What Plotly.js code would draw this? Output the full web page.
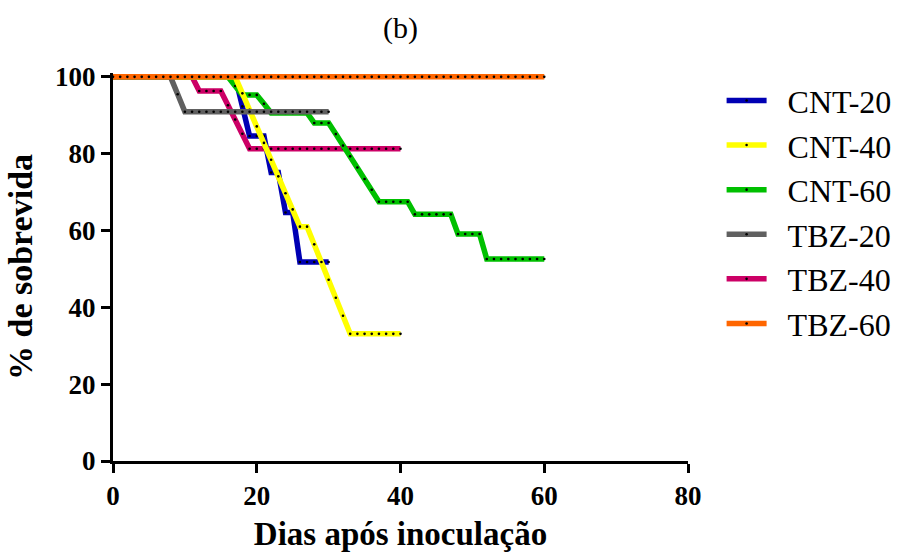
<!DOCTYPE html>
<html>
<head>
<meta charset="utf-8">
<script src="https://cdn.plot.ly/plotly-3.0.1.min.js"></script>
<style>html,body{margin:0;padding:0;background:#fff;}#chart{width:902px;height:554px;}</style>
</head>
<body>
<div id="chart"></div>
<script>
// Days after inoculation (0..60)
const days = [0,1,2,3,4,5,6,7,8,9,10,11,12,13,14,15,16,17,18,19,20,21,22,23,24,25,26,27,28,29,30,
  31,32,33,34,35,36,37,38,39,40,41,42,43,44,45,46,47,48,49,50,51,52,53,54,55,56,57,58,59,60];

// % survival per group, one value per day
const cnt20 = [100,100,100,100,100,100,100,100,100,100,100,100,100,100,100,100,100,100,
  92.3,84.6,84.6,84.6,75.1,75.1,64.7,64.7,51.8,51.8,51.8,51.8,51.8];
const cnt40 = [100,100,100,100,100,100,100,100,100,100,100,100,100,100,100,100,100,100,
  95.7,91.4,87.1,82.8,78.4,74.1,69.7,65.5,61.0,61.0,56.4,51.8,47.2,42.5,37.8,33.1,
  33.1,33.1,33.1,33.1,33.1,33.1,33.1];
const cnt60 = [100,100,100,100,100,100,100,100,100,100,100,100,100,100,100,100,100,
  97.6,95.3,95.3,95.3,93.0,90.6,90.6,90.6,90.6,90.6,90.6,88.0,88.0,88.0,85.1,82.1,79.3,
  76.4,73.4,70.6,67.5,67.5,67.5,67.5,67.5,64.2,64.2,64.2,64.2,64.2,64.2,59.1,59.1,59.1,
  59.1,52.6,52.6,52.6,52.6,52.6,52.6,52.6,52.6,52.6];
const tbz20 = [100,100,100,100,100,100,100,100,100,95.45,90.9,90.9,90.9,90.9,90.9,90.9,
  90.9,90.9,90.9,90.9,90.9,90.9,90.9,90.9,90.9,90.9,90.9,90.9,90.9,90.9,90.9];
const tbz40 = [100,100,100,100,100,100,100,100,100,100,100,100,96.3,96.3,96.3,96.3,92.6,
  88.9,85.2,81.3,81.3,81.3,81.3,81.3,81.3,81.3,81.3,81.3,81.3,81.3,81.3,81.3,81.3,81.3,
  81.3,81.3,81.3,81.3,81.3,81.3,81.3];
const tbz60 = [100,100,100,100,100,100,100,100,100,100,100,100,100,100,100,100,100,100,
  100,100,100,100,100,100,100,100,100,100,100,100,100,100,100,100,100,100,100,100,100,100,
  100,100,100,100,100,100,100,100,100,100,100,100,100,100,100,100,100,100,100,100,100];

const seriesNames = ['CNT-20','CNT-40','CNT-60','TBZ-20','TBZ-40','TBZ-60'];
const xTicks = [0,20,40,60,80];
const yTicks = [0,20,40,60,80,100];

const FONT = 'Liberation Serif, Times New Roman, serif';

// drawing order (bottom -> top) with legend ranks
const defs = [
  {name:seriesNames[4], y:tbz40, color:'#CC0066', rank:5},
  {name:seriesNames[0], y:cnt20, color:'#0000B4', rank:1},
  {name:seriesNames[2], y:cnt60, color:'#00C000', rank:3},
  {name:seriesNames[1], y:cnt40, color:'#FFFF00', rank:2},
  {name:seriesNames[3], y:tbz20, color:'#606060', rank:4},
  {name:seriesNames[5], y:tbz60, color:'#FF6600', rank:6}
];

const traces = defs.map(d => ({
  type:'scatter', mode:'lines+markers', name:'\u00A0\u00A0' + d.name,
  x: days.slice(0, d.y.length), y: d.y,
  line:{color:d.color, width:5.5},
  marker:{color:'#000', size:2.6, symbol:'circle'},
  legendrank:d.rank, legendgroup:d.name,
  cliponaxis:false
}));

const layout = {
  width:902, height:554,
  margin:{l:113, r:214, t:73, b:93},
  paper_bgcolor:'#fff', plot_bgcolor:'#fff',
  font:{family:FONT, color:'#000'},
  title:{text:'(b)', font:{family:FONT, size:30, color:'#000'}, x:0.5, xref:'paper', y:0.951, yref:'container', yanchor:'middle'},
  showlegend:true,
  legend:{xref:'container', yref:'container', x:0.8, y:0.868, xanchor:'left', yanchor:'top',
    font:{family:FONT, size:32}, itemwidth:40,
    traceorder:'grouped', tracegroupgap:0, bgcolor:'rgba(0,0,0,0)'},
  xaxis:{range:[0,80], tickvals:xTicks, ticktext:xTicks.map(v => '<b>' + v + '</b>'), showgrid:false, zeroline:false,
    showline:true, linecolor:'#000', linewidth:3, ticks:'outside', ticklen:9, tickwidth:3, tickcolor:'#000',
    tickfont:{size:27, family:FONT}, automargin:false,
    title:{text:'<b>Dias após inoculação</b>', font:{family:FONT, size:33}, standoff:12}},
  yaxis:{range:[0,101], tickvals:yTicks, ticktext:yTicks.map(v => '<b>' + v + '</b>'), showgrid:false, zeroline:false,
    showline:true, linecolor:'#000', linewidth:3, ticks:'outside', ticklen:9, tickwidth:3, tickcolor:'#000',
    tickfont:{size:27, family:FONT}, automargin:false,
    title:{text:'<b>% de sobrevida</b>', font:{family:FONT, size:34}, standoff:13}}
};

Plotly.newPlot('chart', traces, layout, {displayModeBar:false, staticPlot:true});
</script>
</body>
</html>
